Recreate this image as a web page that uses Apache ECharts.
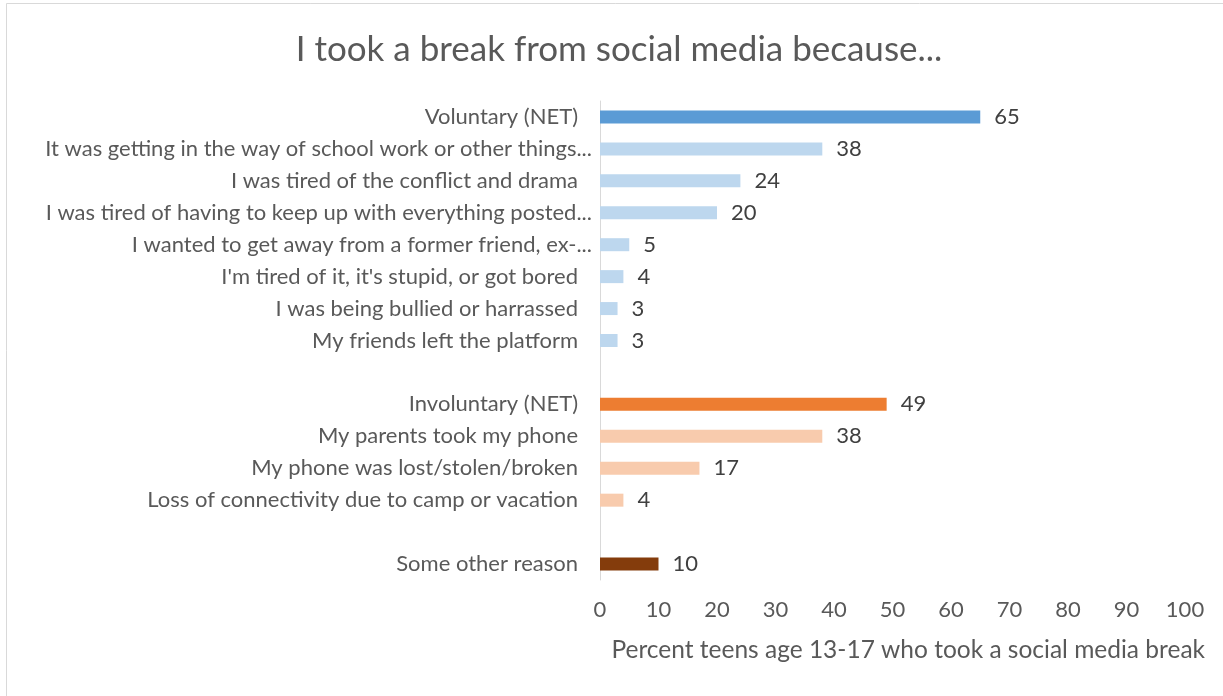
<!DOCTYPE html>
<html>
<head>
<meta charset="utf-8">
<script src="https://cdn.jsdelivr.net/npm/echarts@6/dist/echarts.min.js"></script>
<style>
html,body{margin:0;padding:0;background:#fff;}
#chart{width:1223px;height:696px;}
</style>
</head>
<body>
<div id="chart"></div>
<script>
const titleText = 'I took a break from social media because...';
const axisTitle = 'Percent teens age 13-17 who took a social media break';
const xTicks = [0, 10, 20, 30, 40, 50, 60, 70, 80, 90, 100];

const voluntaryNetLabel = 'Voluntary (NET)';
const voluntaryNetValue = 65;
const voluntaryLabels = [
  'It was getting in the way of school work or other things...',
  'I was tired of the conflict and drama',
  'I was tired of having to keep up with everything posted...',
  'I wanted to get away from a former friend, ex-...',
  "I'm tired of it, it's stupid, or got bored",
  'I was being bullied or harrassed',
  'My friends left the platform'
];
const voluntaryValues = [38, 24, 20, 5, 4, 3, 3];

const involuntaryNetLabel = 'Involuntary (NET)';
const involuntaryNetValue = 49;
const involuntaryLabels = [
  'My parents took my phone',
  'My phone was lost/stolen/broken',
  'Loss of connectivity due to camp or vacation'
];
const involuntaryValues = [38, 17, 4];

const otherLabel = 'Some other reason';
const otherValue = 10;

const FONT = 'Lato';
const C = { vNet:'#5B9BD5', v:'#BDD7EE', iNet:'#ED7D31', i:'#F8CBAD', o:'#843C0C' };

const cats = [];
const data = [];
function add(label, value, color){
  cats.push(label);
  data.push(value === null ? null : { value: value, itemStyle: { color: color } });
}
add(voluntaryNetLabel, voluntaryNetValue, C.vNet);
voluntaryLabels.forEach((l, k) => add(l, voluntaryValues[k], C.v));
add(' ', null);
add(involuntaryNetLabel, involuntaryNetValue, C.iNet);
involuntaryLabels.forEach((l, k) => add(l, involuntaryValues[k], C.i));
add('  ', null);
add(otherLabel, otherValue, C.o);

const labelBase = { color: '#595959', fontSize: 22, fontFamily: FONT };

const chart = echarts.init(document.getElementById('chart'), null, { renderer: 'canvas' });
chart.setOption({
  animation: false,
  backgroundColor: '#fff',
  textStyle: { fontFamily: FONT },
  title: {
    text: titleText,
    left: 614, top: 27,
    textAlign: 'center',
    textStyle: { fontFamily: FONT, fontSize: 35, fontWeight: 'normal', color: '#595959' }
  },
  graphic: [
    { type: 'rect', shape: { x: 6.5, y: 3.5, width: 1240, height: 720 },
      style: { fill: null, stroke: '#D9D9D9', lineWidth: 1 }, silent: true, z: -1 },
    { type: 'text', right: 18, top: 638,
      style: { text: axisTitle, fontFamily: FONT, fontSize: 24.5, fill: '#595959' } }
  ],
  grid: { left: 600, right: 38, top: 101, height: 479, containLabel: false },
  xAxis: {
    type: 'value', min: 0, max: 100, interval: 10,
    axisLine: { show: false }, axisTick: { show: false }, splitLine: { show: false },
    axisLabel: { color: '#595959', fontSize: 22, fontFamily: FONT, margin: 19,
      formatter: v => xTicks.indexOf(v) >= 0 ? String(v) : '' }
  },
  yAxis: {
    type: 'category', data: cats, inverse: true,
    axisLine: { show: true, lineStyle: { color: '#D9D9D9', width: 1 } },
    axisTick: { show: false },
    axisLabel: {
      color: '#595959', fontSize: 22, fontFamily: FONT, margin: 8, interval: 0,
      formatter: v => (v.trim() === '' ? '' : (v.endsWith('...') ? '{e|' + v + '}' : '{n|' + v + '}')),
      rich: {
        e: Object.assign({}, labelBase),
        n: Object.assign({ padding: [0, 14, 0, 0] }, labelBase)
      }
    }
  },
  series: [{
    type: 'bar', data: data, barWidth: 13,
    label: { show: true, position: 'right', distance: 14, color: '#404040', fontSize: 22, fontFamily: FONT }
  }]
});
</script>
</body>
</html>
